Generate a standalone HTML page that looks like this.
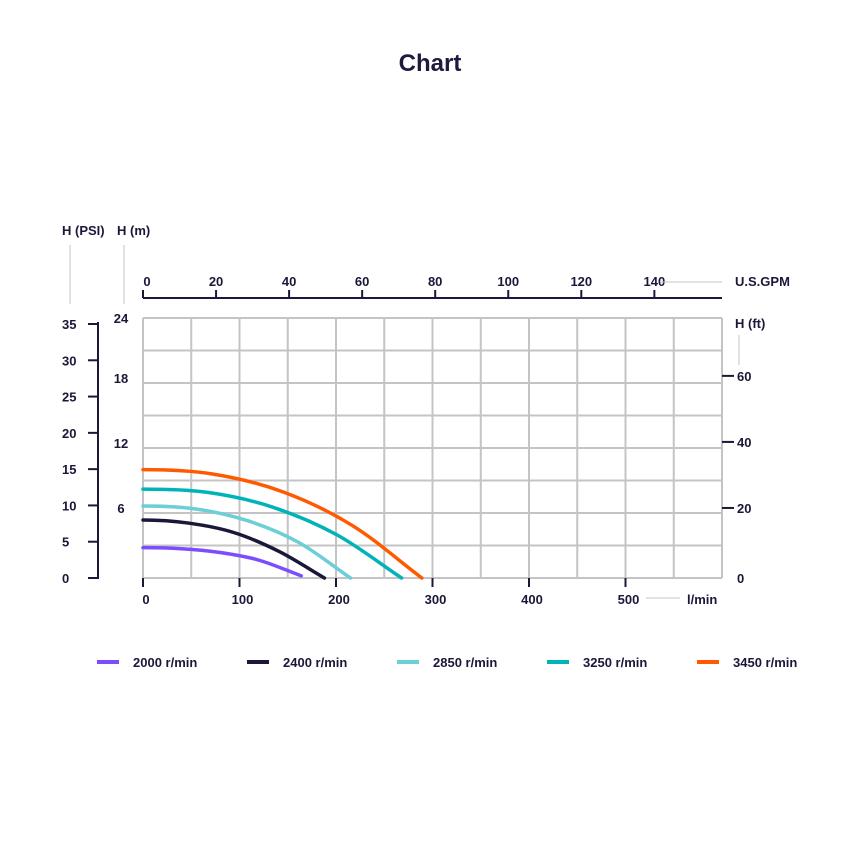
<!DOCTYPE html>
<html><head><meta charset="utf-8"><style>
body{margin:0;background:#fff;width:860px;height:860px;overflow:hidden}
svg{font-family:"Liberation Sans",sans-serif;font-weight:bold}
</style></head><body>
<svg id="c" width="860" height="860">
<text x="430" y="71" text-anchor="middle" font-size="24" fill="#1f1a3d">Chart</text>
</svg>
<script>
const qTicks=[0,100,200,300,400,500];
const gpmTicks=[0,20,40,60,80,100,120,140];
const psiTicks=[0,5,10,15,20,25,30,35];
const mTicks=[6,12,18,24];
const ftTicks=[0,20,40,60];
const seriesNames=["2000 r/min","2400 r/min","2850 r/min","3250 r/min","3450 r/min"];
const colors=["#7c4dff","#1a1838","#6ccfd6","#00b3b8","#ff5a00"];
const q2000=[0,40,80,120,164];const h2000=[2.8,2.7,2.35,1.65,0.2];
const q2400=[0,47,94,141,188];const h2400=[5.35,5.07,4.2,2.45,0];
const q2850=[0,54,108,161,215];const h2850=[6.65,6.38,5.3,3.3,0];
const q3250=[0,67,134,201,268];const h3250=[8.2,7.9,6.55,3.98,0];
const q3450=[0,72,145,217,289];const h3450=[10,9.6,7.95,4.84,0];
const Q=[q2000,q2400,q2850,q3250,q3450],H=[h2000,h2400,h2850,h3250,h3450];

const X0=143,X1=722,Y0=578,Y1=318;
const sx=q=>X0+q*(X1-X0)/600;
const sy=m=>Y0-m*(Y0-Y1)/24;
const sg=g=>sx(g*3.785);
const spsi=p=>Y0-p*(Y0-324)/35;
const sft=f=>sy(f*0.3048);
const svg=document.getElementById('c');
const NS="http://www.w3.org/2000/svg";
function mk(t,a,p){const e=document.createElementNS(NS,t);for(const k in a)e.setAttribute(k,a[k]);(p||svg).appendChild(e);return e;}
function tx(x,y,s,anchor,size){const e=mk('text',{x:x,y:y,'text-anchor':anchor||'middle','font-size':size||13,fill:'#1a1838'});e.textContent=s;return e;}

for(let i=0;i<=12;i++){const l=mk('line',{x1:sx(i*50),x2:sx(i*50),y1:Y1,y2:Y0,stroke:'#c4c4c4','stroke-width':2});

}
for(let i=0;i<=8;i++){const l=mk('line',{x1:X0,x2:X1,y1:sy(i*3),y2:sy(i*3),stroke:'#c4c4c4','stroke-width':2});

}

qTicks.forEach(v=>{mk('line',{x1:sx(v),x2:sx(v),y1:Y0,y2:Y0+9,stroke:'#1a1838','stroke-width':2});
const t=tx(sx(v)+3,604,String(v));

});
mk('line',{x1:646,x2:680,y1:598,y2:598,stroke:'#c4c4c4','stroke-width':1});
const lm=tx(687,604,'l/min','start');



mk('line',{x1:X0,x2:X1,y1:298,y2:298,stroke:'#1a1838','stroke-width':2});
gpmTicks.forEach(v=>{mk('line',{x1:sg(v),x2:sg(v),y1:298,y2:290,stroke:'#1a1838','stroke-width':2});
const t=tx(v==0?sg(v)+4:sg(v),286,String(v));

});
mk('line',{x1:660,x2:722,y1:282,y2:282,stroke:'#c4c4c4','stroke-width':1});
const gp=tx(735,286,'U.S.GPM','start');



mk('line',{x1:98,x2:98,y1:322,y2:579,stroke:'#1a1838','stroke-width':2});
psiTicks.forEach(v=>{mk('line',{x1:88,x2:98,y1:spsi(v),y2:spsi(v),stroke:'#1a1838','stroke-width':2});
const t=tx(62,spsi(v)+5,String(v),'start');

});
const pt=tx(62,235,'H (PSI)','start');


mk('line',{x1:70,x2:70,y1:245,y2:304,stroke:'#c4c4c4','stroke-width':1});

mTicks.forEach(v=>{const t=tx(121,v==24?323:sy(v),String(v));

});
const mt=tx(117,235,'H (m)','start');


mk('line',{x1:124,x2:124,y1:245,y2:304,stroke:'#c4c4c4','stroke-width':1});

ftTicks.forEach(v=>{const y=v==0?Y0:sft(v)-4;
if(v>0)mk('line',{x1:722,x2:734,y1:y,y2:y,stroke:'#1a1838','stroke-width':2});
const t=tx(737,y+5,String(v),'start');

});
const ft=tx(735,328,'H (ft)','start');


mk('line',{x1:739,x2:739,y1:335,y2:365,stroke:'#c4c4c4','stroke-width':1});

function path(qs,hs){const p=qs.map((q,i)=>[sx(q),sy(hs[i])]);
const a0=[2*p[0][0]-p[1][0],p[1][1]];
let d='M'+p[0][0]+','+p[0][1];
for(let i=0;i<p.length-1;i++){const a=i==0?a0:p[i-1],b=p[i],c=p[i+1],e=p[i+2]||[2*c[0]-b[0],2*c[1]-b[1]];
d+=' C'+(b[0]+(c[0]-a[0])/6)+','+(b[1]+(c[1]-a[1])/6)+' '+(c[0]-(e[0]-b[0])/6)+','+(c[1]-(e[1]-b[1])/6)+' '+c[0]+','+c[1];}return d;}
Q.forEach((qs,i)=>{const p=mk('path',{d:path(qs,H[i]),fill:'none',stroke:colors[i],'stroke-width':3.5,'stroke-linecap':'round'});

});

seriesNames.forEach((n,i)=>{const x=97+i*150;
const sw=mk('line',{x1:x,x2:x+22,y1:662,y2:662,stroke:colors[i],'stroke-width':4});


const t=tx(x+36,667,n,'start');

});
</script>
</body></html>
